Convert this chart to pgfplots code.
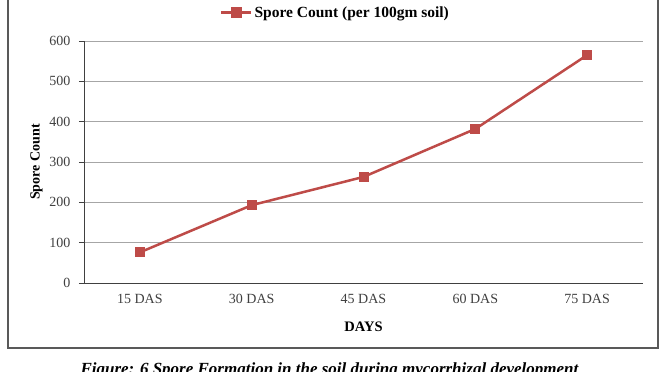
\documentclass[border=0pt]{standalone}
\usepackage{pgfplots}
\pgfplotsset{compat=1.18}
\usepackage{fontspec}
\setmainfont{Liberation Serif}
\definecolor{ser}{HTML}{BE4B48}
\definecolor{tl}{HTML}{404040}
\begin{document}
\begin{tikzpicture}[x=1pt,y=1pt]
\useasboundingbox (0,0) rectangle (672,-372);
\clip (0,0) rectangle (672,-372);
\fill[white] (0,0) rectangle (672,-372);
\draw[line width=1.6pt, black!65] (8,20) -- (8,-348) -- (658,-348) -- (658,20);
\begin{axis}[
  at={(84pt,-283pt)}, anchor=south west,
  scale only axis, width=559pt, height=242pt,
  xmin=0, xmax=5, ymin=0, ymax=600,
  axis x line=bottom, axis y line=left,
  axis line style={black!75, line width=0.8pt, -},
  xtick={0.5,1.5,2.5,3.5,4.5},
  xticklabels={15 DAS,30 DAS,45 DAS,60 DAS,75 DAS},
  extra x ticks={0,1,2,3,4,5}, extra x tick labels={},
  extra x tick style={major tick length=4pt, tick style={black!75}, tick align=outside, grid=none},
  x tick style={draw=none},
  ytick={0,100,...,600},
  y tick style={black!75, line width=0.8pt},
  tick align=outside, major tick length=5pt,
  ymajorgrids, grid style={black!35, line width=0.8pt},
  tick label style={font=\fontsize{14}{15}\selectfont, text=tl},
  /pgf/number format/assume math mode=true,
  xticklabel style={yshift=-3pt},
  yticklabel style={xshift=-5pt},
  xlabel={\textbf{DAYS}}, xlabel style={font=\fontsize{14.5}{15}\selectfont, yshift=-2pt},
  ylabel={\textbf{Spore Count}}, ylabel style={font=\fontsize{14}{15}\selectfont, yshift=0pt},
  clip=false,
  legend style={at={(0.5,1.0)}, anchor=south, yshift=20pt, xshift=-28pt, draw=none, fill=none,
    font=\bfseries\fontsize{15.5}{16}\selectfont, legend cell align=left, inner sep=0pt},
  legend image code/.code={\draw[#1, line width=2.5pt] (-2pt,0pt) -- (28pt,0pt); \fill[ser] (8.5pt,-4.5pt) rectangle (17.5pt,4.5pt);},
]
\addplot[ser, line width=2.5pt, mark=square*, mark size=4.5pt, mark options={solid, fill=ser, draw=ser, line width=0pt}]
  coordinates {(0.5,76) (1.5,193) (2.5,263) (3.5,382) (4.5,565)};
\addlegendentry{Spore Count (per 100gm soil)}
\end{axis}
\node[anchor=base west, font=\bfseries\itshape\fontsize{17}{18}\selectfont] at (77,-374) {Figure: 6 Spore Formation in the soil during mycorrhizal development};
\end{tikzpicture}
\end{document}
